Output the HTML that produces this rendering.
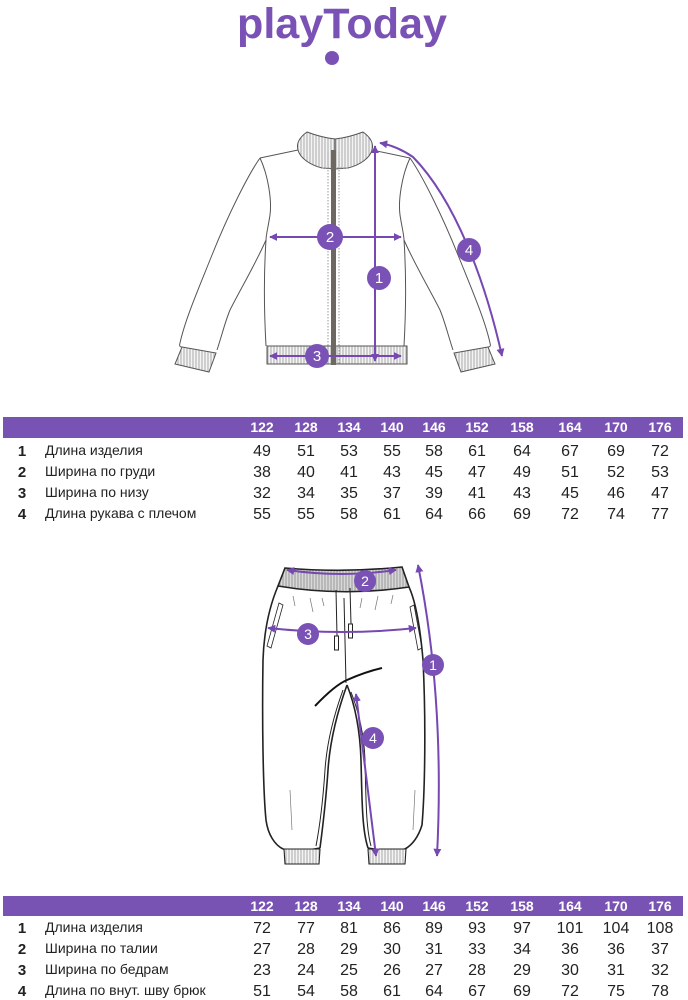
<!DOCTYPE html>
<html><head><meta charset="utf-8"><style>
html,body{margin:0;padding:0;background:#fff;}
svg{display:block;}
text{font-family:"Liberation Sans",sans-serif;}
</style></head><body>
<svg width="688" height="1000" viewBox="0 0 688 1000" xmlns="http://www.w3.org/2000/svg">
<defs>
<pattern id="rib" width="3" height="10" patternUnits="userSpaceOnUse">
<rect width="3" height="10" fill="#f4f4f4"/>
<line x1="1" y1="0" x2="1" y2="10" stroke="#8a8a8a" stroke-width="0.7"/>
</pattern>
<pattern id="rib2" width="3" height="10" patternUnits="userSpaceOnUse">
<rect width="3" height="10" fill="#d8d8d8"/>
<line x1="1" y1="0" x2="1" y2="10" stroke="#888" stroke-width="0.8"/>
</pattern>
<marker id="ah" viewBox="0 0 10 10" refX="9" refY="5" markerWidth="4" markerHeight="4" orient="auto-start-reverse">
<path d="M0,0 L10,5 L0,10 Z" fill="#7548b2"/>
</marker>
</defs>

<!-- Logo -->
<text x="342" y="38" text-anchor="middle" font-size="43" font-weight="bold" fill="#7a52b6" textLength="210" lengthAdjust="spacingAndGlyphs">playToday</text>
<circle cx="332" cy="58" r="7" fill="#7a52b6"/>

<!-- Jacket -->
<g fill="none" stroke="#555" stroke-width="1">
<path d="M298,150 L260,158"/>
<path d="M260,158 C248,175 228,215 212,255 C198,290 185,320 180,343 C179,346 180,347 182,347"/>
<path d="M266,240 C255,265 240,290 230,310 C225,322 222,335 217,350"/>
<path d="M260,158 C268,175 272,200 270,215 C268,228 266,235 266,240 C264,270 264,310 266,346"/>
<path d="M182,347 L216,353 L209,372 L175,364 Z" fill="url(#rib)"/>
<path d="M307,132 C300,137 296,143 298,150 C300,158 310,165 322,168 L335,169 L335,139 C325,138 315,135 307,132 Z" fill="url(#rib)"/>
</g>
<g fill="none" stroke="#555" stroke-width="1" transform="translate(670,0) scale(-1,1)">
<path d="M298,150 L260,158"/>
<path d="M260,158 C248,175 228,215 212,255 C198,290 185,320 180,343 C179,346 180,347 182,347"/>
<path d="M266,240 C255,265 240,290 230,310 C225,322 222,335 217,350"/>
<path d="M260,158 C268,175 272,200 270,215 C268,228 266,235 266,240 C264,270 264,310 266,346"/>
<path d="M182,347 L216,353 L209,372 L175,364 Z" fill="url(#rib)"/>
<path d="M307,132 C300,137 296,143 298,150 C300,158 310,165 322,168 L335,169 L335,139 C325,138 315,135 307,132 Z" fill="url(#rib)"/>
</g>
<rect x="267" y="346" width="140" height="18" fill="url(#rib)" stroke="#555" stroke-width="1"/>
<path d="M322,168 L348,168" stroke="#999" stroke-dasharray="1.5,1.5" fill="none"/>
<line x1="328" y1="152" x2="328" y2="364" stroke="#999" stroke-dasharray="1.5,1.5"/>
<line x1="339" y1="152" x2="339" y2="364" stroke="#999" stroke-dasharray="1.5,1.5"/>
<rect x="331" y="150" width="5" height="215" fill="#6e6862"/>

<!-- Jacket arrows -->
<g stroke="#7548b2" stroke-width="2" fill="none">
<line x1="375" y1="146" x2="375" y2="361" marker-start="url(#ah)" marker-end="url(#ah)"/>
<line x1="270" y1="237" x2="401" y2="237" marker-start="url(#ah)" marker-end="url(#ah)"/>
<line x1="270" y1="356" x2="401" y2="356" marker-start="url(#ah)" marker-end="url(#ah)"/>
<path d="M380,143 Q397,146 413,157 C455,200 485,280 502,356" marker-start="url(#ah)" marker-end="url(#ah)"/>
</g>
<g fill="#7a52b5">
<circle cx="379" cy="278" r="12"/>
<circle cx="330" cy="237" r="13"/>
<circle cx="317" cy="356" r="12"/>
<circle cx="469" cy="250" r="12"/>
</g>
<g fill="#fff" font-size="15" text-anchor="middle">
<text x="379" y="283">1</text>
<text x="330" y="242">2</text>
<text x="317" y="361">3</text>
<text x="469" y="255">4</text>
</g>

<!-- Table 1 -->
<rect x="3" y="417" width="680" height="21" fill="#7853b3"/>
<g fill="#fff" font-size="14" font-weight="bold" text-anchor="middle">
<text x="262" y="432">122</text><text x="306" y="432">128</text><text x="349" y="432">134</text><text x="392" y="432">140</text><text x="434" y="432">146</text><text x="477" y="432">152</text><text x="522" y="432">158</text><text x="570" y="432">164</text><text x="616" y="432">170</text><text x="660" y="432">176</text>
</g>
<g fill="#222" font-size="15" font-weight="bold" text-anchor="middle">
<text x="22" y="456">1</text><text x="22" y="477">2</text><text x="22" y="498">3</text><text x="22" y="519">4</text>
</g>
<g fill="#222" font-size="14">
<text x="45" y="455">Длина изделия</text>
<text x="45" y="476">Ширина по груди</text>
<text x="45" y="497">Ширина по низу</text>
<text x="45" y="518">Длина рукава с плечом</text>
</g>
<g fill="#222" font-size="16" text-anchor="middle">
<text y="456"><tspan x="262">49</tspan><tspan x="306">51</tspan><tspan x="349">53</tspan><tspan x="392">55</tspan><tspan x="434">58</tspan><tspan x="477">61</tspan><tspan x="522">64</tspan><tspan x="570">67</tspan><tspan x="616">69</tspan><tspan x="660">72</tspan></text>
<text y="477"><tspan x="262">38</tspan><tspan x="306">40</tspan><tspan x="349">41</tspan><tspan x="392">43</tspan><tspan x="434">45</tspan><tspan x="477">47</tspan><tspan x="522">49</tspan><tspan x="570">51</tspan><tspan x="616">52</tspan><tspan x="660">53</tspan></text>
<text y="498"><tspan x="262">32</tspan><tspan x="306">34</tspan><tspan x="349">35</tspan><tspan x="392">37</tspan><tspan x="434">39</tspan><tspan x="477">41</tspan><tspan x="522">43</tspan><tspan x="570">45</tspan><tspan x="616">46</tspan><tspan x="660">47</tspan></text>
<text y="519"><tspan x="262">55</tspan><tspan x="306">55</tspan><tspan x="349">58</tspan><tspan x="392">61</tspan><tspan x="434">64</tspan><tspan x="477">66</tspan><tspan x="522">69</tspan><tspan x="570">72</tspan><tspan x="616">74</tspan><tspan x="660">77</tspan></text>
</g>

<!-- Pants -->
<g fill="none" stroke="#222" stroke-width="1.6">
<path d="M285,568 Q343,573 402,567 L409,587 Q343,597 278,586 Z" fill="url(#rib2)"/>
<path d="M278,586 C270,605 264,630 263,660 C262,720 263,790 266,820 C268,835 275,845 283,849"/>
<path d="M409,587 C415,600 420,625 423,660 C426,720 425,790 422,825 C418,838 412,845 405,849"/>
<path d="M347,685 C338,710 330,740 328,770 C326,800 323,825 320,848"/>
<path d="M343,690 C335,712 327,740 325,770 C323,800 320,825 316,846" stroke-width="1"/>
<path d="M347,685 C355,705 360,730 361,760 C362,800 362,830 368,848"/>
<path d="M351,692 C358,710 364,732 365,760 C366,800 366,828 371,846" stroke-width="1"/>
<path d="M283,849 Q300,852 320,848"/>
<path d="M368,848 Q388,852 405,849"/>
<path d="M284,849 L320,849 L319,864 L285,864 Z" fill="url(#rib)" stroke-width="1.1"/>
<path d="M368,849 L406,849 L405,864 L369,864 Z" fill="url(#rib)" stroke-width="1.1"/>
<path d="M344,598 L346,683" stroke-width="1"/>
<path d="M336,590 L337,636" stroke-width="1"/>
<rect x="334.5" y="636" width="4" height="14" stroke-width="1"/>
<path d="M350,588 L351,624" stroke-width="1"/>
<rect x="348.5" y="624" width="4" height="14" stroke-width="1"/>
<path d="M279,603 L283,605 L271,648 L267,646 Z" stroke-width="0.8"/>
<path d="M410,607 L414,605 L422,648 L418,650 Z" stroke-width="0.8"/>
<path d="M315,706 Q335,685 347,680 Q365,672 382,668" stroke="#111" stroke-width="2"/>
<g stroke="#777" stroke-width="0.7">
<path d="M293,596 L295,606"/><path d="M310,598 L313,612"/><path d="M322,598 L324,606"/>
<path d="M362,598 L360,608"/><path d="M378,596 L375,610"/><path d="M393,595 L391,604"/>
<path d="M290,790 L292,830"/><path d="M415,790 L413,830"/>
</g>
</g>

<!-- Pants arrows -->
<g stroke="#7548b2" stroke-width="2" fill="none">
<path d="M418,565 Q445,700 437,856" marker-start="url(#ah)" marker-end="url(#ah)"/>
<path d="M287,570 Q342,578 396,570" marker-start="url(#ah)" marker-end="url(#ah)"/>
<path d="M268,628 Q342,636 416,628" marker-start="url(#ah)" marker-end="url(#ah)"/>
<path d="M356,694 Q366,775 376,856" marker-start="url(#ah)" marker-end="url(#ah)"/>
</g>
<g fill="#7a52b5">
<circle cx="433" cy="665" r="11"/>
<circle cx="365" cy="581" r="11"/>
<circle cx="308" cy="634" r="11"/>
<circle cx="373" cy="738" r="11"/>
</g>
<g fill="#fff" font-size="14" text-anchor="middle">
<text x="433" y="670">1</text>
<text x="365" y="586">2</text>
<text x="308" y="639">3</text>
<text x="373" y="743">4</text>
</g>

<!-- Table 2 -->
<rect x="3" y="896" width="680" height="20" fill="#7853b3"/>
<g fill="#fff" font-size="14" font-weight="bold" text-anchor="middle">
<text x="262" y="911">122</text><text x="306" y="911">128</text><text x="349" y="911">134</text><text x="392" y="911">140</text><text x="434" y="911">146</text><text x="477" y="911">152</text><text x="522" y="911">158</text><text x="570" y="911">164</text><text x="616" y="911">170</text><text x="660" y="911">176</text>
</g>
<g fill="#222" font-size="15" font-weight="bold" text-anchor="middle">
<text x="22" y="933">1</text><text x="22" y="954">2</text><text x="22" y="975">3</text><text x="22" y="996">4</text>
</g>
<g fill="#222" font-size="14">
<text x="45" y="932">Длина изделия</text>
<text x="45" y="953">Ширина по талии</text>
<text x="45" y="974">Ширина по бедрам</text>
<text x="45" y="995">Длина по внут. шву брюк</text>
</g>
<g fill="#222" font-size="16" text-anchor="middle">
<text y="933"><tspan x="262">72</tspan><tspan x="306">77</tspan><tspan x="349">81</tspan><tspan x="392">86</tspan><tspan x="434">89</tspan><tspan x="477">93</tspan><tspan x="522">97</tspan><tspan x="570">101</tspan><tspan x="616">104</tspan><tspan x="660">108</tspan></text>
<text y="954"><tspan x="262">27</tspan><tspan x="306">28</tspan><tspan x="349">29</tspan><tspan x="392">30</tspan><tspan x="434">31</tspan><tspan x="477">33</tspan><tspan x="522">34</tspan><tspan x="570">36</tspan><tspan x="616">36</tspan><tspan x="660">37</tspan></text>
<text y="975"><tspan x="262">23</tspan><tspan x="306">24</tspan><tspan x="349">25</tspan><tspan x="392">26</tspan><tspan x="434">27</tspan><tspan x="477">28</tspan><tspan x="522">29</tspan><tspan x="570">30</tspan><tspan x="616">31</tspan><tspan x="660">32</tspan></text>
<text y="996"><tspan x="262">51</tspan><tspan x="306">54</tspan><tspan x="349">58</tspan><tspan x="392">61</tspan><tspan x="434">64</tspan><tspan x="477">67</tspan><tspan x="522">69</tspan><tspan x="570">72</tspan><tspan x="616">75</tspan><tspan x="660">78</tspan></text>
</g>
</svg>
</body></html>
